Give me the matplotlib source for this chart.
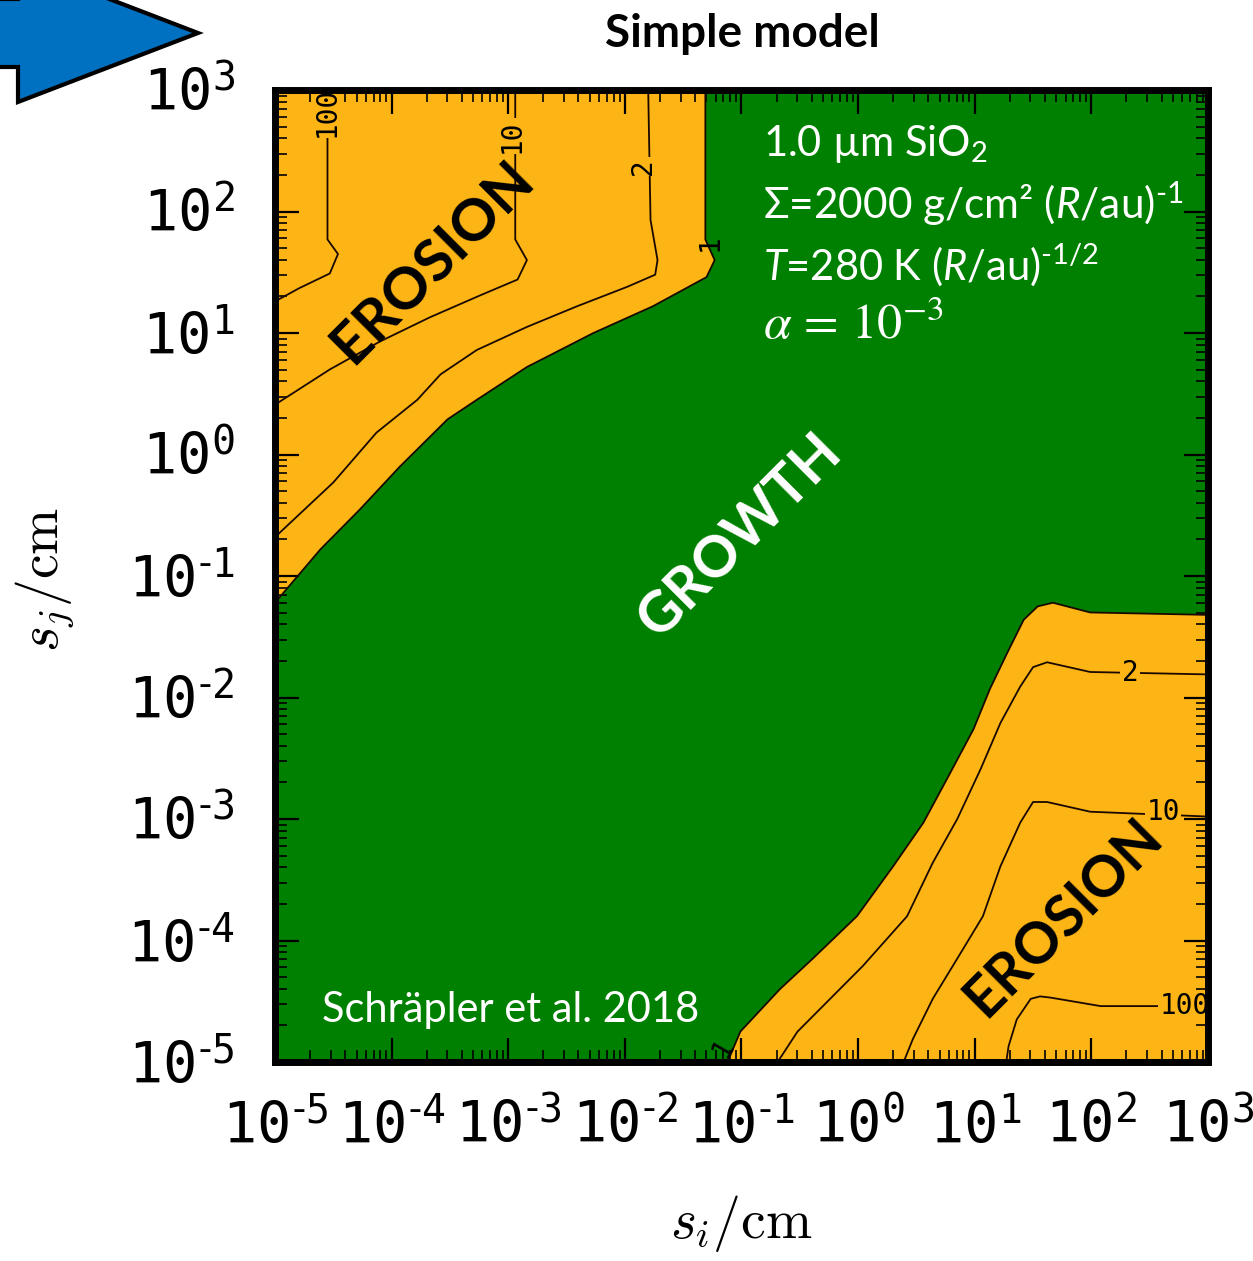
import numpy as np
import matplotlib
matplotlib.use("Agg")
import matplotlib.pyplot as plt
from matplotlib.patches import Polygon
from matplotlib.ticker import LogLocator, NullFormatter, FuncFormatter

plt.rcParams["mathtext.fontset"] = "custom"
plt.rcParams["mathtext.rm"] = "Lato"
plt.rcParams["mathtext.it"] = "Lato:italic"
plt.rcParams["mathtext.tt"] = "DejaVu Sans Mono"

GREEN = "#008000"
ORANGE = "#FDB515"
LINE = "#1a0800"

# Contour lines of the erosion ratio (log10 s_i, log10 s_j), upper-left zone
ul_lvl1_x = [-1.31, -1.31, -1.23, -1.30, -1.76, -2.27, -2.84, -3.27, -3.52, -3.93, -4.27, -4.61, -5.00]
ul_lvl1_y = [3.00, 1.77, 1.60, 1.46, 1.22, 1.00, 0.72, 0.45, 0.29, -0.10, -0.45, -0.78, -1.22]
ul_lvl2_x = [-1.80, -1.78, -1.72, -1.74, -1.98, -2.41, -2.84, -3.27, -3.58, -3.78, -4.13, -4.50, -5.00]
ul_lvl2_y = [3.00, 1.93, 1.60, 1.48, 1.38, 1.22, 1.05, 0.86, 0.66, 0.45, 0.18, -0.23, -0.68]
ul_lvl10_x = [-2.94, -2.94, -2.84, -2.92, -3.24, -3.67, -4.10, -4.53, -5.00]
ul_lvl10_y = [3.00, 1.77, 1.60, 1.44, 1.31, 1.13, 0.93, 0.70, 0.41]
ul_lvl100_x = [-4.55, -4.55, -4.46, -4.53, -4.79, -5.00]
ul_lvl100_y = [3.00, 1.77, 1.65, 1.49, 1.37, 1.26]

# Contour lines of the erosion ratio, lower-right zone
br_lvl1_x = [3.00, 1.99, 1.67, 1.54, 1.42, 1.28, 1.13, 0.99, 0.79, 0.56, 0.30, -0.01, -0.39, -0.67, -1.01, -1.12]
br_lvl1_y = [-1.32, -1.30, -1.22, -1.25, -1.36, -1.63, -1.93, -2.26, -2.62, -3.03, -3.39, -3.80, -4.15, -4.40, -4.75, -5.00]
br_lvl2_x = [3.00, 1.99, 1.62, 1.50, 1.39, 1.22, 1.05, 0.85, 0.64, 0.42, 0.04, -0.24, -0.52, -0.69]
br_lvl2_y = [-1.81, -1.79, -1.71, -1.75, -1.91, -2.21, -2.59, -3.00, -3.36, -3.80, -4.21, -4.48, -4.75, -5.00]
br_lvl10_x = [3.00, 1.99, 1.62, 1.50, 1.39, 1.22, 1.07, 0.90, 0.64, 0.47, 0.39]
br_lvl10_y = [-2.98, -2.94, -2.86, -2.86, -3.03, -3.39, -3.80, -4.07, -4.48, -4.81, -5.00]
br_lvl100_x = [3.00, 2.08, 1.65, 1.56, 1.48, 1.36, 1.29, 1.27]
br_lvl100_y = [-4.54, -4.54, -4.47, -4.46, -4.48, -4.65, -4.87, -5.00]

decades = [-5, -4, -3, -2, -1, 0, 1, 2, 3]

fig = plt.figure(figsize=(12.53, 12.61), dpi=100)
ax = fig.add_axes([275 / 1253, (1261 - 1062) / 1261, 933 / 1253, 972 / 1261])
ax.set_xscale("log")
ax.set_yscale("log")
lo, hi = 10.0 ** decades[0], 10.0 ** decades[-1]
ax.set_xlim(lo, hi)
ax.set_ylim(lo, hi)
ax.set_facecolor(GREEN)


def pw(v):
    return 10.0 ** np.asarray(v, dtype=float)


# erosion zones
ax.fill(pw(ul_lvl1_x + [decades[0]]), pw(ul_lvl1_y + [decades[-1]]),
        color=ORANGE, lw=0, zorder=1)
ax.fill(pw(br_lvl1_x + [decades[-1]]), pw(br_lvl1_y + [decades[0]]),
        color=ORANGE, lw=0, zorder=1)

for xs, ys in [(ul_lvl1_x, ul_lvl1_y), (ul_lvl2_x, ul_lvl2_y),
               (ul_lvl10_x, ul_lvl10_y), (ul_lvl100_x, ul_lvl100_y),
               (br_lvl1_x, br_lvl1_y), (br_lvl2_x, br_lvl2_y),
               (br_lvl10_x, br_lvl10_y), (br_lvl100_x, br_lvl100_y)]:
    ax.plot(pw(xs), pw(ys), color=LINE, lw=1.3, solid_joinstyle="round", zorder=2)

# inline contour labels
lab_kw = dict(family="DejaVu Sans Mono", fontsize=20, color="black",
              ha="center", va="center", clip_on=True, zorder=3,
              rotation_mode="anchor")
box = dict(boxstyle="square,pad=0.05", fc=ORANGE, ec="none")
ax.text(10 ** -4.554, 10 ** 2.82, "100", rotation=90, bbox=box, **lab_kw)
ax.text(10 ** -2.967, 10 ** 2.62, "10", rotation=90, bbox=box, **lab_kw)
ax.text(10 ** -1.844, 10 ** 2.37, "2", rotation=90, bbox=box, **lab_kw)
ax.text(10 ** -1.269, 10 ** 1.74, "1", rotation=90, **lab_kw)
ax.text(10 ** 2.333, 10 ** -1.80, "2", bbox=box, **lab_kw)
ax.text(10 ** 2.616, 10 ** -2.946, "10", bbox=box, **lab_kw)
ax.text(10 ** 2.80, 10 ** -4.54, "100", bbox=box, **lab_kw)
ax.text(10 ** -1.16, 10 ** -4.88, "1", rotation=60, **lab_kw)


def decade_label(v, pos):
    k = int(round(np.log10(v)))
    if k < 0:
        return r"$\mathtt{10}^{\text{-}\mathtt{%d}}$" % (-k)
    return r"$\mathtt{10}^{\mathtt{%d}}$" % k


# axes styling
for sp in ax.spines.values():
    sp.set_linewidth(5)
    sp.set_zorder(5)
for axis in (ax.xaxis, ax.yaxis):
    axis.set_major_locator(LogLocator(base=10, numticks=20))
    axis.set_minor_locator(LogLocator(base=10, subs=np.arange(2, 10), numticks=200))
    axis.set_minor_formatter(NullFormatter())
    axis.set_major_formatter(FuncFormatter(decade_label))
ax.tick_params(which="both", direction="in", top=True, right=True, zorder=4)
ax.tick_params(which="major", length=17, width=1.6, labelsize=41)
ax.tick_params(which="minor", length=8.5, width=1.2)
ax.tick_params(axis="x", which="major", pad=28)
ax.tick_params(axis="y", which="major", pad=29)

# axis titles
ax.text(0.5, -0.181, r"$s_i/\mathrm{cm}$", transform=ax.transAxes, math_fontfamily="cm",
        fontsize=40, ha="center", va="baseline")
ax.text(-0.2326, 0.496, r"$s_j/\mathrm{cm}$", transform=ax.transAxes, math_fontfamily="cm",
        fontsize=40, ha="center", va="baseline", rotation=90, rotation_mode="anchor")

# region names
ax.text(0.169, 0.823, "EROSION", transform=ax.transAxes, family="Lato", weight="bold",
        fontsize=42, color="black", rotation=45, ha="center", va="center",
        rotation_mode="anchor", zorder=6)
ax.text(0.845, 0.149, "EROSION", transform=ax.transAxes, family="Lato", weight="bold",
        fontsize=41, color="black", rotation=45, ha="center", va="center",
        rotation_mode="anchor", zorder=6)
ax.text(0.498, 0.542, "GROWTH", transform=ax.transAxes, family="Lato", weight="bold",
        fontsize=41, color="white", rotation=45, ha="center", va="center",
        rotation_mode="anchor", zorder=6)

# parameter block
tx = 0.523
ax.text(tx, 0.932, r"$\mathrm{1.0\ µm\ SiO_2}$", transform=ax.transAxes,
        fontsize=30, color="white", va="baseline", zorder=6)
ax.text(tx, 0.868, r"$\mathit{Σ}\text{=2000 g/cm² (}\mathit{R}\text{/au)}^{\text{-1}}$",
        transform=ax.transAxes, fontsize=30.5, color="white", va="baseline", zorder=6)
ax.text(tx, 0.805, r"$\mathit{T}\text{=280 K (}\mathit{R}\text{/au)}^{\text{-1/2}}$",
        transform=ax.transAxes, fontsize=30, color="white", va="baseline", zorder=6)
ax.text(tx, 0.744, r"$\alpha\,=\,10^{-3}$", transform=ax.transAxes, math_fontfamily="stix",
        fontsize=36, color="white", va="baseline", zorder=6)
ax.text(0.050, 0.041, "Schräpler et al. 2018", transform=ax.transAxes, family="Lato",
        fontsize=30, color="white", va="baseline", zorder=6)

# title
fig.text(742 / 1253, 1 - 47 / 1261, "Simple model", family="Lato", weight="bold",
         fontsize=33, ha="center", va="baseline")

# block arrow in the upper-left corner
arrow_px = [(-10, -1), (18, -1), (18, -36), (198, 33), (18, 102), (18, 67), (-10, 67)]
arrow = Polygon([(x / 1253, 1 - y / 1261) for x, y in arrow_px], closed=True,
                transform=fig.transFigure, facecolor="#0070C0", edgecolor="black",
                lw=3, clip_on=False, zorder=10)
fig.patches.append(arrow)

fig.savefig("out.png", dpi=100, facecolor="white")
